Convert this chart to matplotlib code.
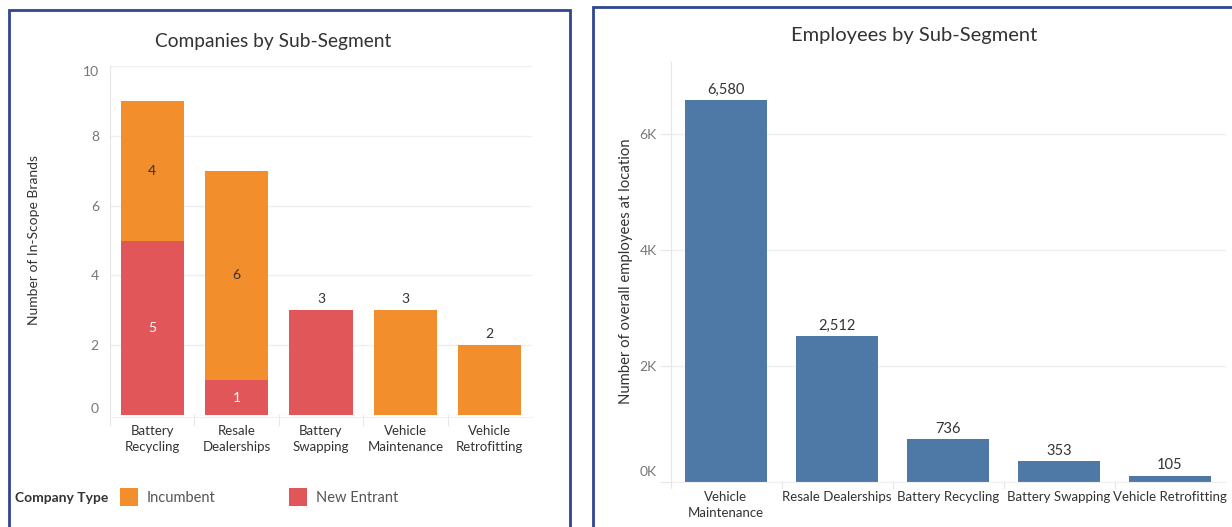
import matplotlib
matplotlib.use("Agg")
import matplotlib.pyplot as plt
from matplotlib.patches import Rectangle
import matplotlib.transforms as mtransforms
import numpy as np

plt.rcParams['font.family'] = ['Lato', 'DejaVu Sans']

# ---------------- data ----------------
comp_categories = ["Battery\nRecycling", "Resale\nDealerships", "Battery\nSwapping",
                   "Vehicle\nMaintenance", "Vehicle\nRetrofitting"]
new_entrant = [5, 1, 3, 0, 0]
incumbent = [4, 6, 0, 3, 2]
comp_yticks = [0, 2, 4, 6, 8, 10]

emp_categories = ["Vehicle\nMaintenance", "Resale Dealerships", "Battery Recycling",
                  "Battery Swapping", "Vehicle Retrofitting"]
employees = [6580, 2512, 736, 353, 105]
emp_yticks = [0, 2000, 4000, 6000]
emp_yticklabels = ["0K", "2K", "4K", "6K"]

ORANGE = "#F28E2B"
RED = "#E15759"
BLUE = "#4E79A7"
BORDER = "#2F4590"
TICK = "#777777"
TXT = "#333333"
GRID = "#EFEFEF"

W, H = 1232, 527
fig = plt.figure(figsize=(W / 100, H / 100), dpi=100)
fig.patch.set_facecolor("white")

def fx(px):
    return px / W

def fy(py):
    return 1 - py / H

# panel borders
fig.patches.append(Rectangle((fx(9), fy(540)), fx(570) - fx(9), fy(10) - fy(540),
                             transform=fig.transFigure, fill=False, edgecolor=BORDER,
                             linewidth=2, zorder=10))
fig.patches.append(Rectangle((fx(593), fy(540)), fx(1250) - fx(593), fy(7) - fy(540),
                             transform=fig.transFigure, fill=False, edgecolor=BORDER,
                             linewidth=2, zorder=10))

def style_axes(ax):
    for s in ["top", "right"]:
        ax.spines[s].set_visible(False)
    ax.spines["left"].set_color("#E6E6E6")
    ax.spines["bottom"].set_color("#E6E6E6")
    ax.spines["left"].set_linewidth(0.8)
    ax.spines["bottom"].set_linewidth(0.8)
    ax.yaxis.grid(True, color=GRID, linewidth=1)
    ax.set_axisbelow(True)
    ax.tick_params(axis="y", colors="#E6E6E6", labelcolor=TICK, labelsize=10, length=8, pad=4)
    ax.tick_params(axis="x", length=0, labelcolor=TXT, labelsize=9.5, pad=7)

# ---------------- left chart ----------------
ax1 = fig.add_axes([fx(110), fy(415), fx(532) - fx(110), fy(66) - fy(415)])
x1 = np.arange(len(comp_categories))
ax1.bar(x1, new_entrant, width=0.75, color=RED, zorder=2)
ax1.bar(x1, incumbent, width=0.75, bottom=new_entrant, color=ORANGE, zorder=2)
ax1.set_xlim(-0.5, len(comp_categories) - 0.5)
ax1.set_ylim(0, 10)
ax1.set_yticks(comp_yticks)
ax1.set_xticks(x1)
ax1.set_xticklabels(comp_categories, linespacing=1.45)
style_axes(ax1)
ax1.spines["bottom"].set_visible(False)
ax1.tick_params(axis="y", length=0, pad=8)
yl = ax1.get_yticklabels()
yl[0].set_va("bottom")
yl[-1].set_va("top")
# category divider ticks
for b in np.arange(-0.5, len(comp_categories) - 0.5, 1.0):
    ax1.plot([b, b], [0, -0.3], color="#E6E6E6", lw=0.8, clip_on=False)
ax1.plot([-0.5, 4.5], [-0.05, -0.05], color="#F0F0F0", lw=0.8, clip_on=False)

for i in range(len(comp_categories)):
    ne, inc = new_entrant[i], incumbent[i]
    total = ne + inc
    if ne > 0 and inc > 0:
        ax1.text(i, ne / 2, str(ne), ha="center", va="center", color="white", fontsize=10)
        ax1.text(i, ne + inc / 2, str(inc), ha="center", va="center", color=TXT, fontsize=10)
    else:
        ax1.text(i, total + 0.15, str(total), ha="center", va="bottom", color=TXT, fontsize=10)

fig.text(fx(34), fy(240), "Number of In-Scope Brands", rotation=90, ha="center",
         va="center", fontsize=10, color=TXT)

fig.text(fx(273), fy(42), "Companies by Sub-Segment", ha="center", va="center",
         fontsize=13.8, color=TXT)

# legend
fig.text(fx(15), fy(498), "Company Type", ha="left", va="center", fontsize=10,
         fontweight="bold", color=TXT)
fig.patches.append(Rectangle((fx(120), fy(506)), fx(138) - fx(120), fy(488) - fy(506),
                             transform=fig.transFigure, facecolor=ORANGE, edgecolor="none"))
fig.text(fx(147), fy(498), "Incumbent", ha="left", va="center", fontsize=10.5, color="#555555")
fig.patches.append(Rectangle((fx(289), fy(506)), fx(307) - fx(289), fy(488) - fy(506),
                             transform=fig.transFigure, facecolor=RED, edgecolor="none"))
fig.text(fx(316), fy(498), "New Entrant", ha="left", va="center", fontsize=10.5, color="#555555")

# ---------------- right chart ----------------
ax2 = fig.add_axes([fx(670.5), fy(481.7), fx(1225.5) - fx(670.5), fy(62) - fy(481.7)])
x2 = np.arange(len(emp_categories))
ax2.bar(x2, employees, width=0.74, color=BLUE, zorder=2)
ax2.set_xlim(-0.5, len(emp_categories) - 0.5)
ax2.set_ylim(0, 7235)
ax2.set_yticks(emp_yticks)
ax2.set_yticklabels(emp_yticklabels)
ax2.set_xticks(x2)
ax2.set_xticklabels(emp_categories, linespacing=1.35, va="top")
style_axes(ax2)
ax2.spines["bottom"].set_visible(False)
ax2.tick_params(axis="y", length=8, pad=2)
yl2 = ax2.get_yticklabels()
yl2[0].set_va("bottom")
yl2[0].set_transform(yl2[0].get_transform() +
                     mtransforms.ScaledTranslation(0, 4 / 100, fig.dpi_scale_trans))
for b in np.arange(-0.5, len(emp_categories) - 0.5, 1.0):
    ax2.plot([b, b], [0, -100], color="#E6E6E6", lw=0.8, clip_on=False)
ax2.plot([-0.5, 4.5], [-10, -10], color="#F0F0F0", lw=0.8, clip_on=False)

for i, v in enumerate(employees):
    ax2.text(i, v + 55, f"{v:,}", ha="center", va="bottom", color=TXT, fontsize=10.5)

fig.text(fx(626), fy(271), "Number of overall employees at location", rotation=90,
         ha="center", va="center", fontsize=10.7, color=TXT)

fig.text(fx(914), fy(36), "Employees by Sub-Segment", ha="center", va="center",
         fontsize=14.5, color=TXT)

fig.savefig("out.png", dpi=100, facecolor="white")
